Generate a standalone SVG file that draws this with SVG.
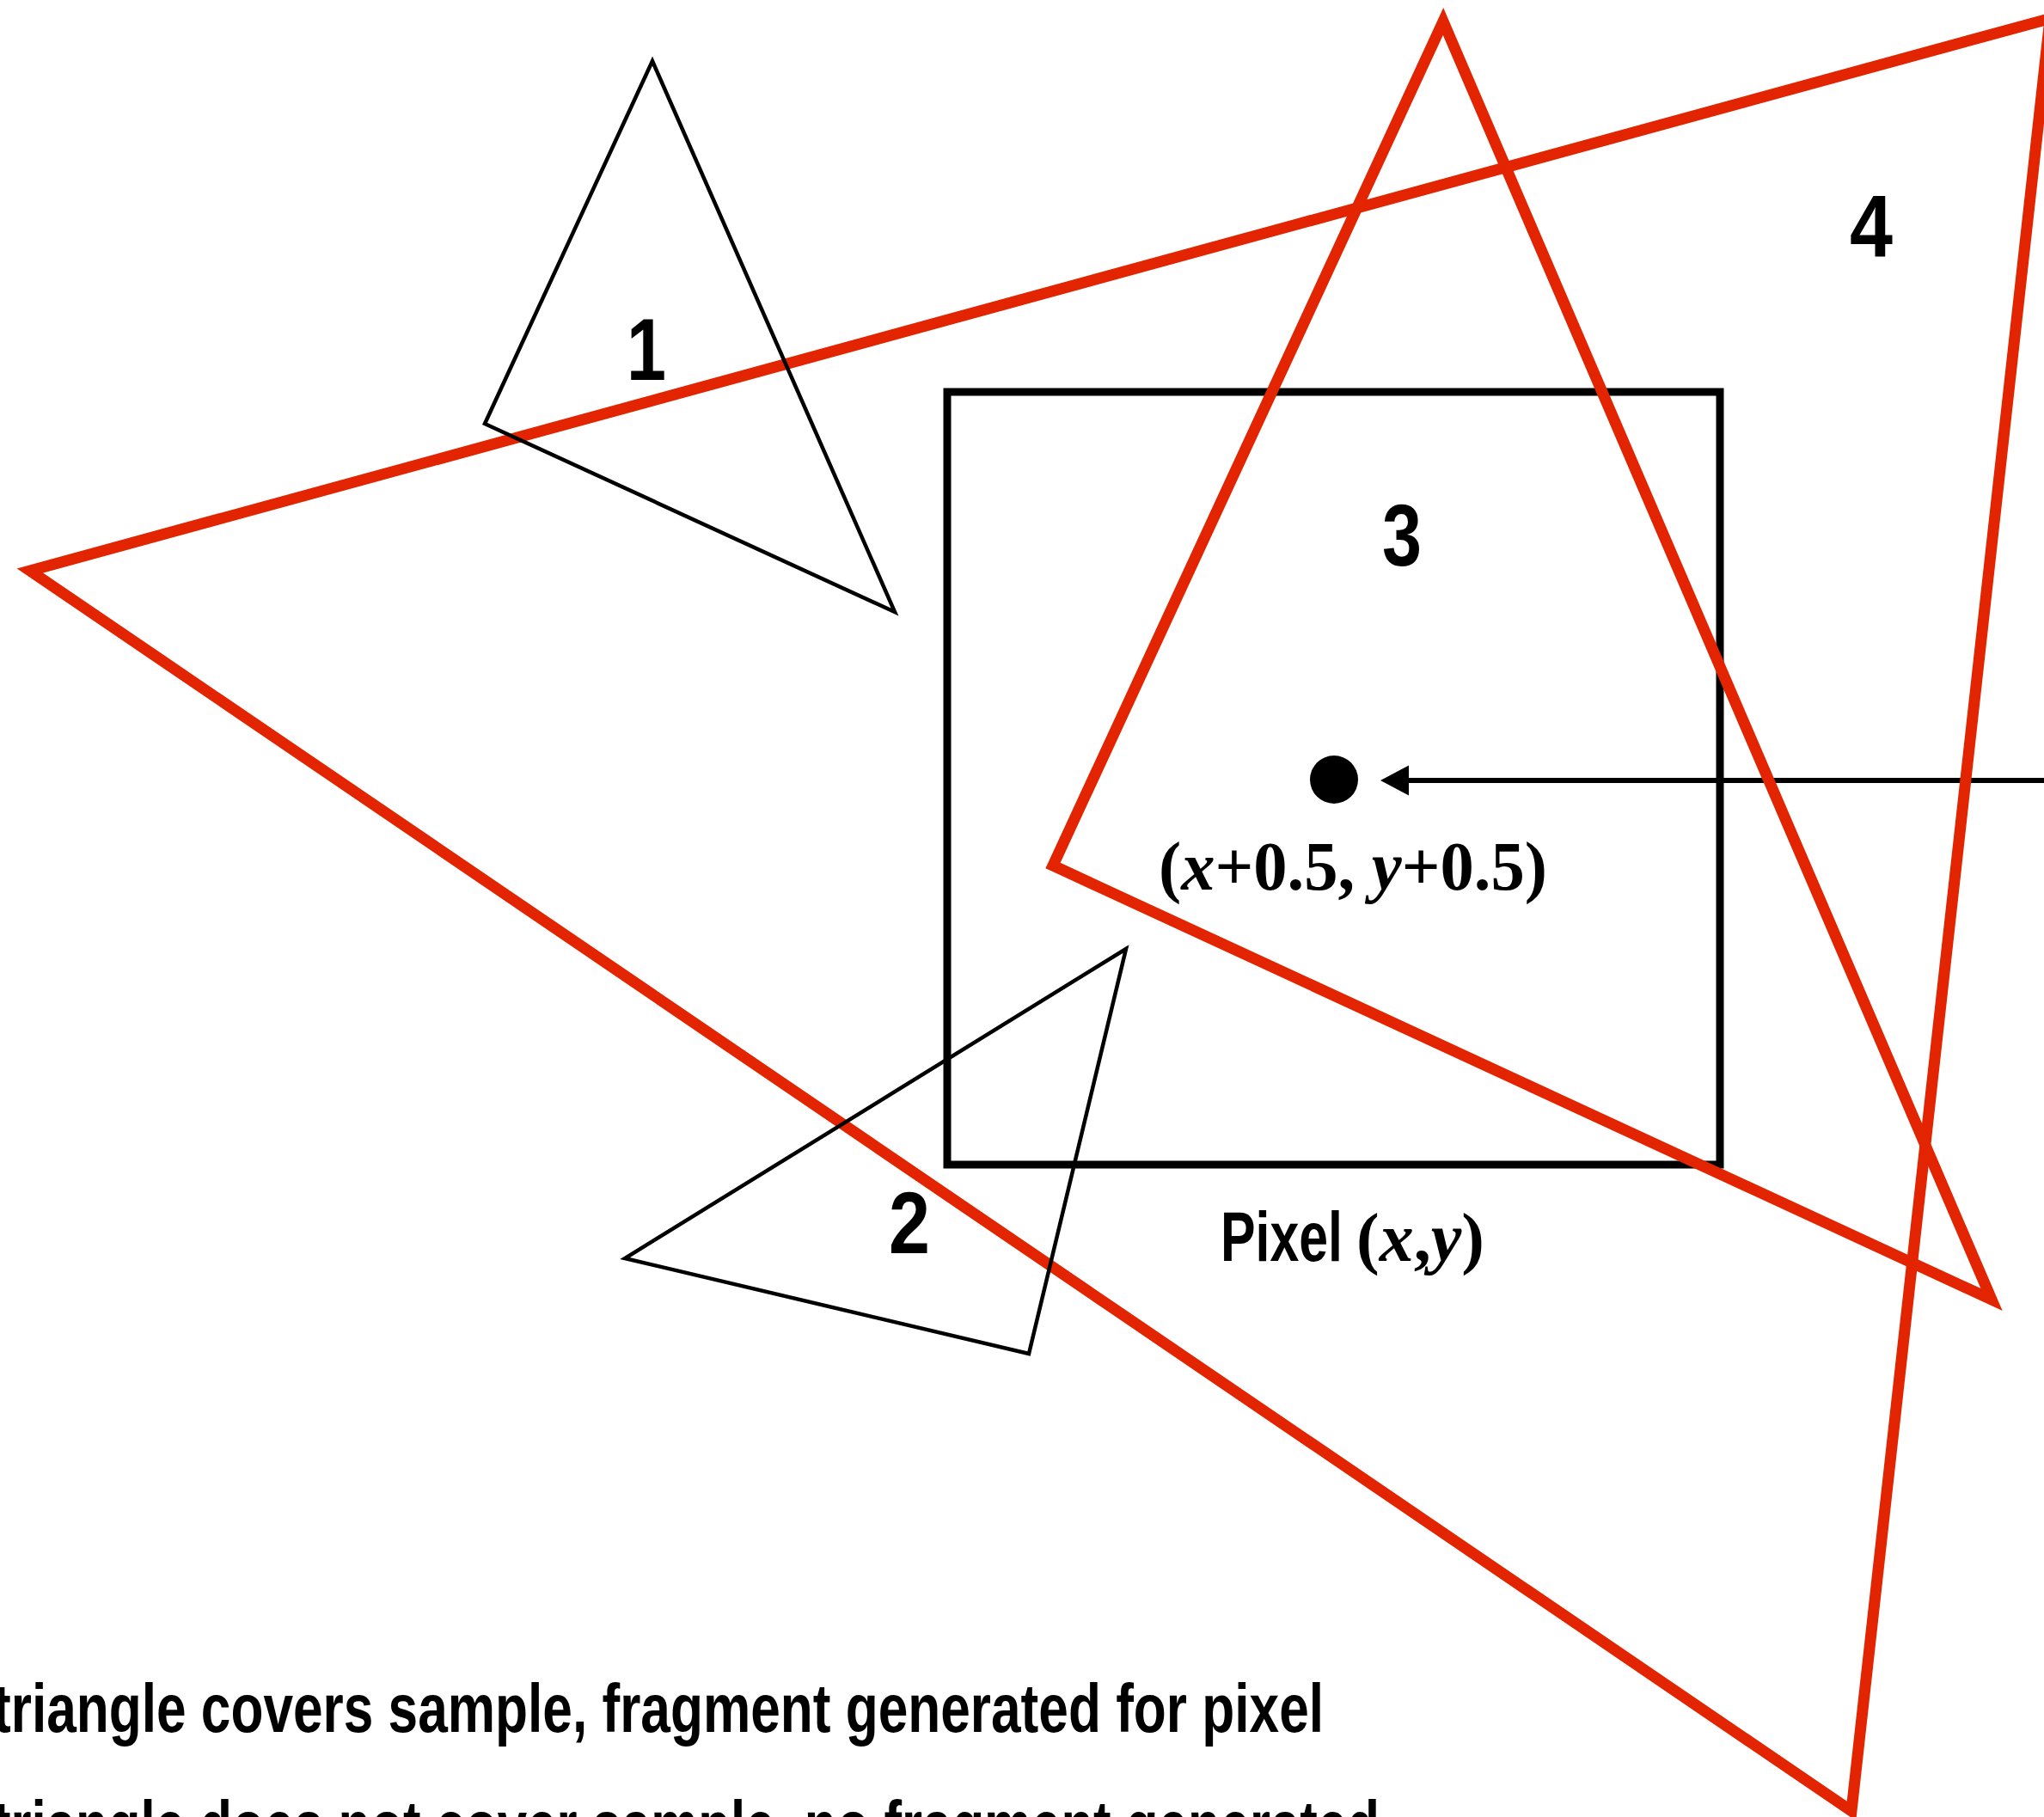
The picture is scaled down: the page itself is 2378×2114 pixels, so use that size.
<svg xmlns="http://www.w3.org/2000/svg" width="2378" height="2114" viewBox="0 0 2378 2114">
  <defs>
    <style>
      .red { fill: none; stroke: #E32400; stroke-width: 13; stroke-linejoin: miter; }
      .thin { fill: none; stroke: #000; stroke-width: 4.5; stroke-linejoin: miter; }
      .pixel { fill: none; stroke: #000; stroke-width: 9; }
      .num { font-family: "Liberation Sans", Arial, sans-serif; font-weight: bold; font-size: 102px; fill: #000; text-anchor: middle; }
      .sans { font-family: "Liberation Sans", Arial, sans-serif; font-weight: bold; fill: #000; }
      .serif { font-family: "Liberation Serif", "Times New Roman", serif; font-weight: bold; fill: #000; }
      .it { font-style: italic; }
      .conn { stroke: #000; stroke-width: 6; fill: none; }
    </style>
    <marker id="arrow" markerUnits="userSpaceOnUse" markerWidth="34" markerHeight="36" viewBox="0 -18 34 36" refX="0" refY="0" orient="auto">
      <path d="M0,-17.5 L33,0 L0,17.5 z" fill="#000"/>
    </marker>
  </defs>
  <rect width="2378" height="2114" fill="#fff"/>

  <g id="pixel-square">
    <rect class="pixel" x="1102" y="456" width="899" height="899"/>
  </g>

  <g id="connectors">
    <line class="conn" x1="2380" y1="908" x2="1639" y2="908" marker-end="url(#arrow)"/>
  </g>

  <g id="triangle-4">
    <polygon class="red" points="35,664 2385,21.5 2154,2107"/>
  </g>
  <g id="triangle-3">
    <polygon class="red" points="1679,25 1225,1007 2317,1512"/>
  </g>
  <g id="triangle-1">
    <polygon class="thin" points="759,71 564,493 1041,712"/>
  </g>
  <g id="triangle-2">
    <polygon class="thin" points="1310,1104 727,1464 1197,1575"/>
  </g>

  <g id="sample-point">
    <circle cx="1552" cy="907" r="28" fill="#000"/>
    <text class="serif" x="1348" y="1035" font-size="81" textLength="452" lengthAdjust="spacingAndGlyphs">(<tspan class="it">x</tspan>+0.5, <tspan class="it">y</tspan>+0.5)</text>
  </g>

  <g id="labels">
    <text class="num" x="752" y="442" textLength="46" lengthAdjust="spacingAndGlyphs">1</text>
    <text class="num" x="1058" y="1458" textLength="48" lengthAdjust="spacingAndGlyphs">2</text>
    <text class="num" x="1631" y="658" textLength="46" lengthAdjust="spacingAndGlyphs">3</text>
    <text class="num" x="2177" y="298" textLength="50" lengthAdjust="spacingAndGlyphs">4</text>
    <text class="sans" x="1420" y="1467" font-size="81" textLength="142" lengthAdjust="spacingAndGlyphs">Pixel</text>
    <text class="serif" x="1578" y="1467" font-size="80" font-weight="normal">(<tspan class="it" font-weight="bold">x</tspan>,<tspan class="it" font-weight="bold">y</tspan>)</text>
  </g>

  <g id="legend">
    <text class="sans" x="-8" y="2015" font-size="80" textLength="1548" lengthAdjust="spacingAndGlyphs">triangle covers sample, fragment generated for pixel</text>
    <text class="sans" x="-8" y="2151" font-size="80" textLength="1613" lengthAdjust="spacingAndGlyphs">triangle does not cover sample, no fragment generated</text>
  </g>
</svg>
